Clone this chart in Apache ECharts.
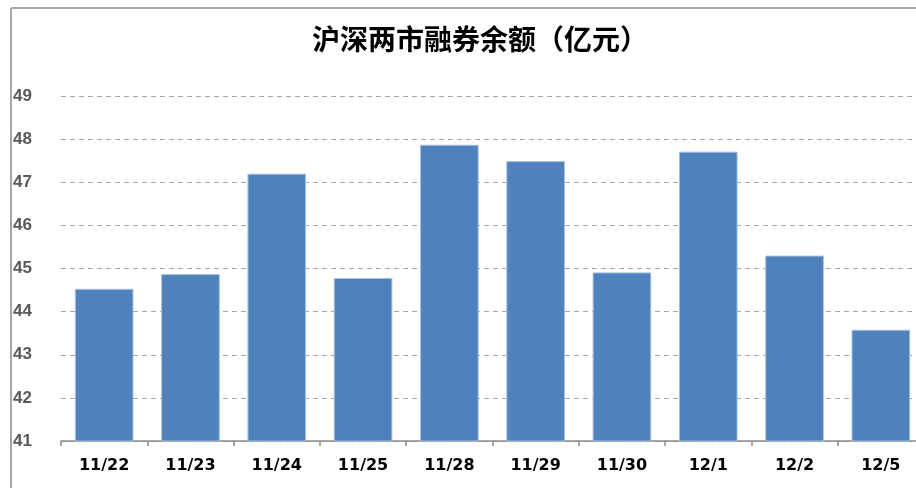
<!DOCTYPE html>
<html><head><meta charset="utf-8">
<script src="https://cdn.jsdelivr.net/npm/echarts@6/dist/echarts.min.js"></script>
<style>html,body{margin:0;padding:0;background:#fff;overflow:hidden;width:916px;height:488px}#c{width:940px;height:488px}</style>
</head><body><div id="c"></div>
<script>
const titleText = '沪深两市融券余额（亿元）';
const categories = ['11/22','11/23','11/24','11/25','11/28','11/29','11/30','12/1','12/2','12/5'];
const values = [44.53, 44.87, 47.2, 44.78, 47.87, 47.49, 44.91, 47.71, 45.3, 43.58];
const yMin = 41, yMax = 49, yStep = 1;

const chart = echarts.init(document.getElementById('c'), null, {renderer:'canvas'});
chart.setOption({
  animation:false,
  backgroundColor:'#fff',
  title:{text:titleText,left:475,textAlign:'center',top:20,
    textStyle:{fontFamily:'Noto Sans CJK SC',fontWeight:'bold',fontSize:28,color:'#000'}},
  graphic:[
    {type:'line',shape:{x1:11,y1:8,x2:940,y2:8},style:{stroke:'#a6a6a6',lineWidth:2}},
    {type:'line',shape:{x1:11,y1:8,x2:11,y2:488},style:{stroke:'#a6a6a6',lineWidth:2}}
  ],
  grid:{left:61,width:863,top:96,height:345,containLabel:false},
  xAxis:{type:'category',data:categories,
    axisLine:{lineStyle:{color:'#8c8c8c',width:1.5}},
    axisTick:{show:true,length:5,lineStyle:{color:'#8c8c8c',width:1.5}},
    axisLabel:{margin:17,fontFamily:'DejaVu Sans',fontWeight:'bold',fontSize:16,color:'#000'}},
  yAxis:{type:'value',min:yMin,max:yMax,interval:yStep,
    axisLine:{show:false},axisTick:{show:false},
    axisLabel:{margin:48,align:'left',fontFamily:'Liberation Sans',fontWeight:'bold',fontSize:17,color:'#595959'},
    splitLine:{lineStyle:{color:'#a6a6a6',type:[5,4],width:1.2}}},
  series:[{type:'bar',data:values,barCategoryGap:'32%',
    itemStyle:{color:'#4F81BD',borderColor:'#a9c1df',borderWidth:1}}]
});
</script></body></html>
